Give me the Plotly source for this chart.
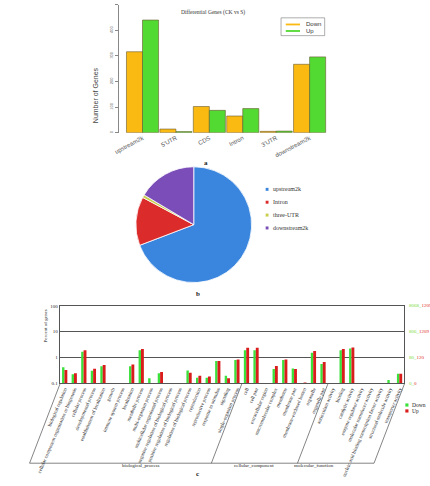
import math
import plotly.graph_objects as go

W, H = 430, 486


def fx(p):
    return p / W


def fy(p):
    return 1 - p / H


SANS = "Liberation Sans"
SERIF = "Liberation Serif"

# ---------------- panel a data ----------------
region_cats = ["upstream2k", "5'UTR", "CDS", "Intron", "3'UTR", "downstream2k"]
region_down = [316, 14, 102, 65, 5, 267]
region_up = [440, 4, 87, 94, 6, 296]
count_ticks = [0, 100, 200, 300, 400, 500]
series_a = ["Down", "Up"]
colors_a = ["#FBBA12", "#52D932"]

# ---------------- panel b data ----------------
pie_labels = ["upstream2k", "Intron", "three-UTR", "downstream2k"]
pie_values = [69.2, 13.6, 0.8, 16.4]
pie_colors = ["#3A86DE", "#DC2B2B", "#C9CF4A", "#7B4DB8"]

# ---------------- panel c data ----------------
go_terms = [
    "biological regulation",
    "cellular component organization or biogenesis",
    "cellular process",
    "developmental process",
    "establishment of localization",
    "growth",
    "immune system process",
    "localization",
    "metabolic process",
    "multi-organism process",
    "multicellular organismal process",
    "negative regulation of biological process",
    "positive regulation of biological process",
    "regulation of biological process",
    "reproduction",
    "reproductive process",
    "response to stimulus",
    "signaling",
    "single-organism process",
    "cell",
    "cell part",
    "extracellular region",
    "macromolecular complex",
    "membrane",
    "membrane part",
    "membrane-enclosed lumen",
    "organelle",
    "organelle part",
    "antioxidant activity",
    "binding",
    "catalytic activity",
    "enzyme regulator activity",
    "molecular transducer activity",
    "nucleic acid binding transcription factor activity",
    "structural molecule activity",
    "transporter activity",
]
go_group_names = ["biological_process", "cellular_component", "molecular_function"]
go_group_sizes = [19, 9, 8]
go_down = [0.41, 0.22, 1.66, 0.30, 0.45, None, None, 0.45, 1.9, 0.155,
           0.24, None, None, 0.31, 0.16, 0.16, 0.72, 0.19, 0.79,
           1.9, 1.9, None, 0.355, 0.79, 0.37, None, 1.5, 0.55,
           None, 1.9, 2.2, None, None, None, 0.13, 0.23]
go_up = [0.32, 0.24, 1.9, 0.36, 0.50, None, None, 0.52, 2.1, None,
         0.27, None, None, 0.25, 0.19, 0.18, 0.72, 0.155, 0.83,
         2.35, 2.35, None, 0.46, 0.83, 0.35, 0.105, 1.75, 0.65,
         None, 2.1, 2.4, None, None, None, None, 0.23]
pct_ticks = [0.1, 1, 10, 100]
pct_tick_text = ["0.1", "1", "10", "100"]
right_down_text = ["0", "80", "806", "8068"]
right_up_text = ["0", "120", "1209", "1209"]
series_c = ["Down", "Up"]
colors_c = ["#3BE03B", "#D91C1C"]

fig = go.Figure()

# ---- panel a bars ----
xa = list(range(len(region_cats)))
for name, vals, col, off in zip(series_a, [region_down, region_up], colors_a, [-0.48, 0.0]):
    fig.add_trace(go.Bar(x=xa, y=vals, name=name, width=0.48, offset=off,
                         marker=dict(color=col, line=dict(color="#6a5a30", width=0.6)),
                         xaxis="x", yaxis="y", showlegend=False))

# ---- panel b pie ----
fig.add_trace(go.Pie(labels=pie_labels, values=pie_values, sort=False,
                     direction="clockwise", rotation=0,
                     marker=dict(colors=pie_colors, line=dict(color="white", width=0.8)),
                     textinfo="none", showlegend=False,
                     domain=dict(x=[fx(120), fx(242)], y=[fy(286), fy(164)])))

# ---- panel c bars ----
xc = list(range(len(go_terms)))
for name, vals, col, off, wd in zip(series_c, [go_down, go_up], colors_c, [-0.28, -0.03], [0.25, 0.30]):
    fig.add_trace(go.Bar(x=xc, y=vals, name=name, width=wd, offset=off,
                         marker=dict(color=col, line=dict(width=0)),
                         xaxis="x2", yaxis="y2", showlegend=False))

annotations = []
shapes = []

# panel a texts
annotations.append(dict(x=fx(201), y=fy(5), xref="paper", yref="paper",
                        text="Differential Genes (CK vs S)", showarrow=False,
                        font=dict(family=SERIF, size=5.5, color="#333")))
annotations.append(dict(x=fx(72), y=fy(64), xref="paper", yref="paper",
                        text="Number of Genes", textangle=-90, showarrow=False,
                        font=dict(family=SANS, size=7, color="#444")))
annotations.append(dict(x=fx(194), y=fy(157), xref="paper", yref="paper",
                        text="<b>a</b>", showarrow=False,
                        font=dict(family=SERIF, size=7, color="#222")))
# panel a legend
shapes.append(dict(type="rect", xref="paper", yref="paper",
                   x0=fx(273), x1=fx(319), y0=fy(34), y1=fy(16),
                   line=dict(color="#777", width=0.6)))
for i, (name, col) in enumerate(zip(series_a, colors_a)):
    yy = 22.7 + i * 6.6
    shapes.append(dict(type="line", xref="paper", yref="paper",
                       x0=fx(278), x1=fx(293), y0=fy(yy), y1=fy(yy),
                       line=dict(color=col, width=1.8)))
    annotations.append(dict(x=fx(297), y=fy(yy), xref="paper", yref="paper",
                            xanchor="left", yanchor="middle", text=name, showarrow=False,
                            font=dict(family=SANS, size=6, color="#333")))

# panel b legend
for i, (lab, col) in enumerate(zip(pie_labels, pie_colors)):
    yy = 189.3 + i * 13
    shapes.append(dict(type="rect", xref="paper", yref="paper",
                       x0=fx(256.8), x1=fx(259.8), y0=fy(yy + 1.5), y1=fy(yy - 1.5),
                       fillcolor=col, line=dict(width=0)))
    annotations.append(dict(x=fx(262), y=fy(yy), xref="paper", yref="paper",
                            xanchor="left", yanchor="middle", text=lab, showarrow=False,
                            font=dict(family=SERIF, size=6, color="#333")))
annotations.append(dict(x=fx(186), y=fy(295), xref="paper", yref="paper",
                        text="<b>b</b>", showarrow=False,
                        font=dict(family=SERIF, size=7, color="#222")))

# panel c texts
annotations.append(dict(x=fx(20), y=fy(346), xref="paper", yref="paper",
                        text="Percent of genes", textangle=-90, showarrow=False,
                        font=dict(family=SERIF, size=5, color="#222")))
for v, dt, ut in zip(pct_ticks, right_down_text, right_up_text):
    annotations.append(dict(x=fx(406), y=math.log10(v), xref="paper", yref="y2",
                            xanchor="left", yanchor="middle", showarrow=False,
                            text=f"<span style='color:#7CDB3C'>{dt}_</span><span style='color:#E0302A'>{ut}</span>",
                            font=dict(family=SERIF, size=5)))
for i, (name, col) in enumerate(zip(series_c, colors_c)):
    yy = 407.2 + i * 6
    shapes.append(dict(type="rect", xref="paper", yref="paper",
                       x0=fx(404), x1=fx(407.3), y0=fy(yy + 1.6), y1=fy(yy - 1.6),
                       fillcolor=col, line=dict(width=0)))
    annotations.append(dict(x=fx(408.5), y=fy(yy), xref="paper", yref="paper",
                            xanchor="left", yanchor="middle", text=name, showarrow=False,
                            font=dict(family=SERIF, size=5.5, color="#222")))

# group brackets (parallelogram)
c_left_px, c_right_px = 40, 403
n_cat = len(go_terms)
unit_px = (c_right_px - c_left_px) / n_cat
slant_px = 32
top_y, bot_y = 386, 466
bounds = [0]
for s in go_group_sizes:
    bounds.append(bounds[-1] + s)
bound_px = [c_left_px + b * unit_px for b in bounds]
for bp in bound_px:
    shapes.append(dict(type="line", xref="paper", yref="paper",
                       x0=fx(bp), y0=fy(top_y), x1=fx(bp - slant_px), y1=fy(bot_y),
                       line=dict(color="#333", width=0.6)))
shapes.append(dict(type="line", xref="paper", yref="paper",
                   x0=fx(bound_px[0] - slant_px), y0=fy(bot_y),
                   x1=fx(bound_px[-1] - slant_px), y1=fy(bot_y),
                   line=dict(color="#333", width=0.6)))
for gi, gname in enumerate(go_group_names):
    mid = (bound_px[gi] + bound_px[gi + 1]) / 2 - slant_px
    annotations.append(dict(x=fx(mid), y=fy(472.5), xref="paper", yref="paper",
                            text=gname, showarrow=False,
                            font=dict(family=SERIF, size=5, color="#222")))
annotations.append(dict(x=fx(185), y=fy(483), xref="paper", yref="paper",
                        text="<b>c</b>", showarrow=False,
                        font=dict(family=SERIF, size=7, color="#222")))

fig.update_layout(
    width=W, height=H, margin=dict(l=0, r=0, t=0, b=0),
    paper_bgcolor="white", plot_bgcolor="white",
    showlegend=False, barmode="overlay",
    xaxis=dict(domain=[fx(102), fx(326)], range=[-0.71, 5.65],
               tickvals=xa, ticktext=region_cats, tickangle=-28,
               tickfont=dict(family=SANS, size=6, color="#555"),
               showline=False, showgrid=False, zeroline=False, ticks="", anchor="y"),
    yaxis=dict(domain=[fy(132), fy(2.7)], range=[0, 500],
               tickvals=count_ticks, tickangle=-90,
               tickfont=dict(family=SANS, size=4, color="#666"),
               ticks="outside", ticklen=3, tickcolor="#888",
               showline=True, linecolor="#888", linewidth=0.8,
               showgrid=False, zeroline=False, anchor="x"),
    xaxis2=dict(domain=[fx(c_left_px), fx(c_right_px)], range=[-0.5, n_cat - 0.5],
                tickvals=xc, ticktext=go_terms, tickangle=-67,
                tickfont=dict(family=SERIF, size=5, color="#222"),
                showline=True, mirror=True, linecolor="#555", linewidth=1.2,
                showgrid=False, zeroline=False, ticks="", anchor="y2"),
    yaxis2=dict(domain=[fy(385), fy(307)], type="log", range=[-1, 2],
                tickvals=pct_ticks, ticktext=pct_tick_text,
                tickfont=dict(family=SERIF, size=5, color="#222"),
                showline=True, mirror=True, linecolor="#555", linewidth=1.2,
                showgrid=True, gridcolor="#555", gridwidth=1.2,
                zeroline=False, ticks="", anchor="x2"),
    annotations=annotations, shapes=shapes,
)

fig.write_html("out.html")
